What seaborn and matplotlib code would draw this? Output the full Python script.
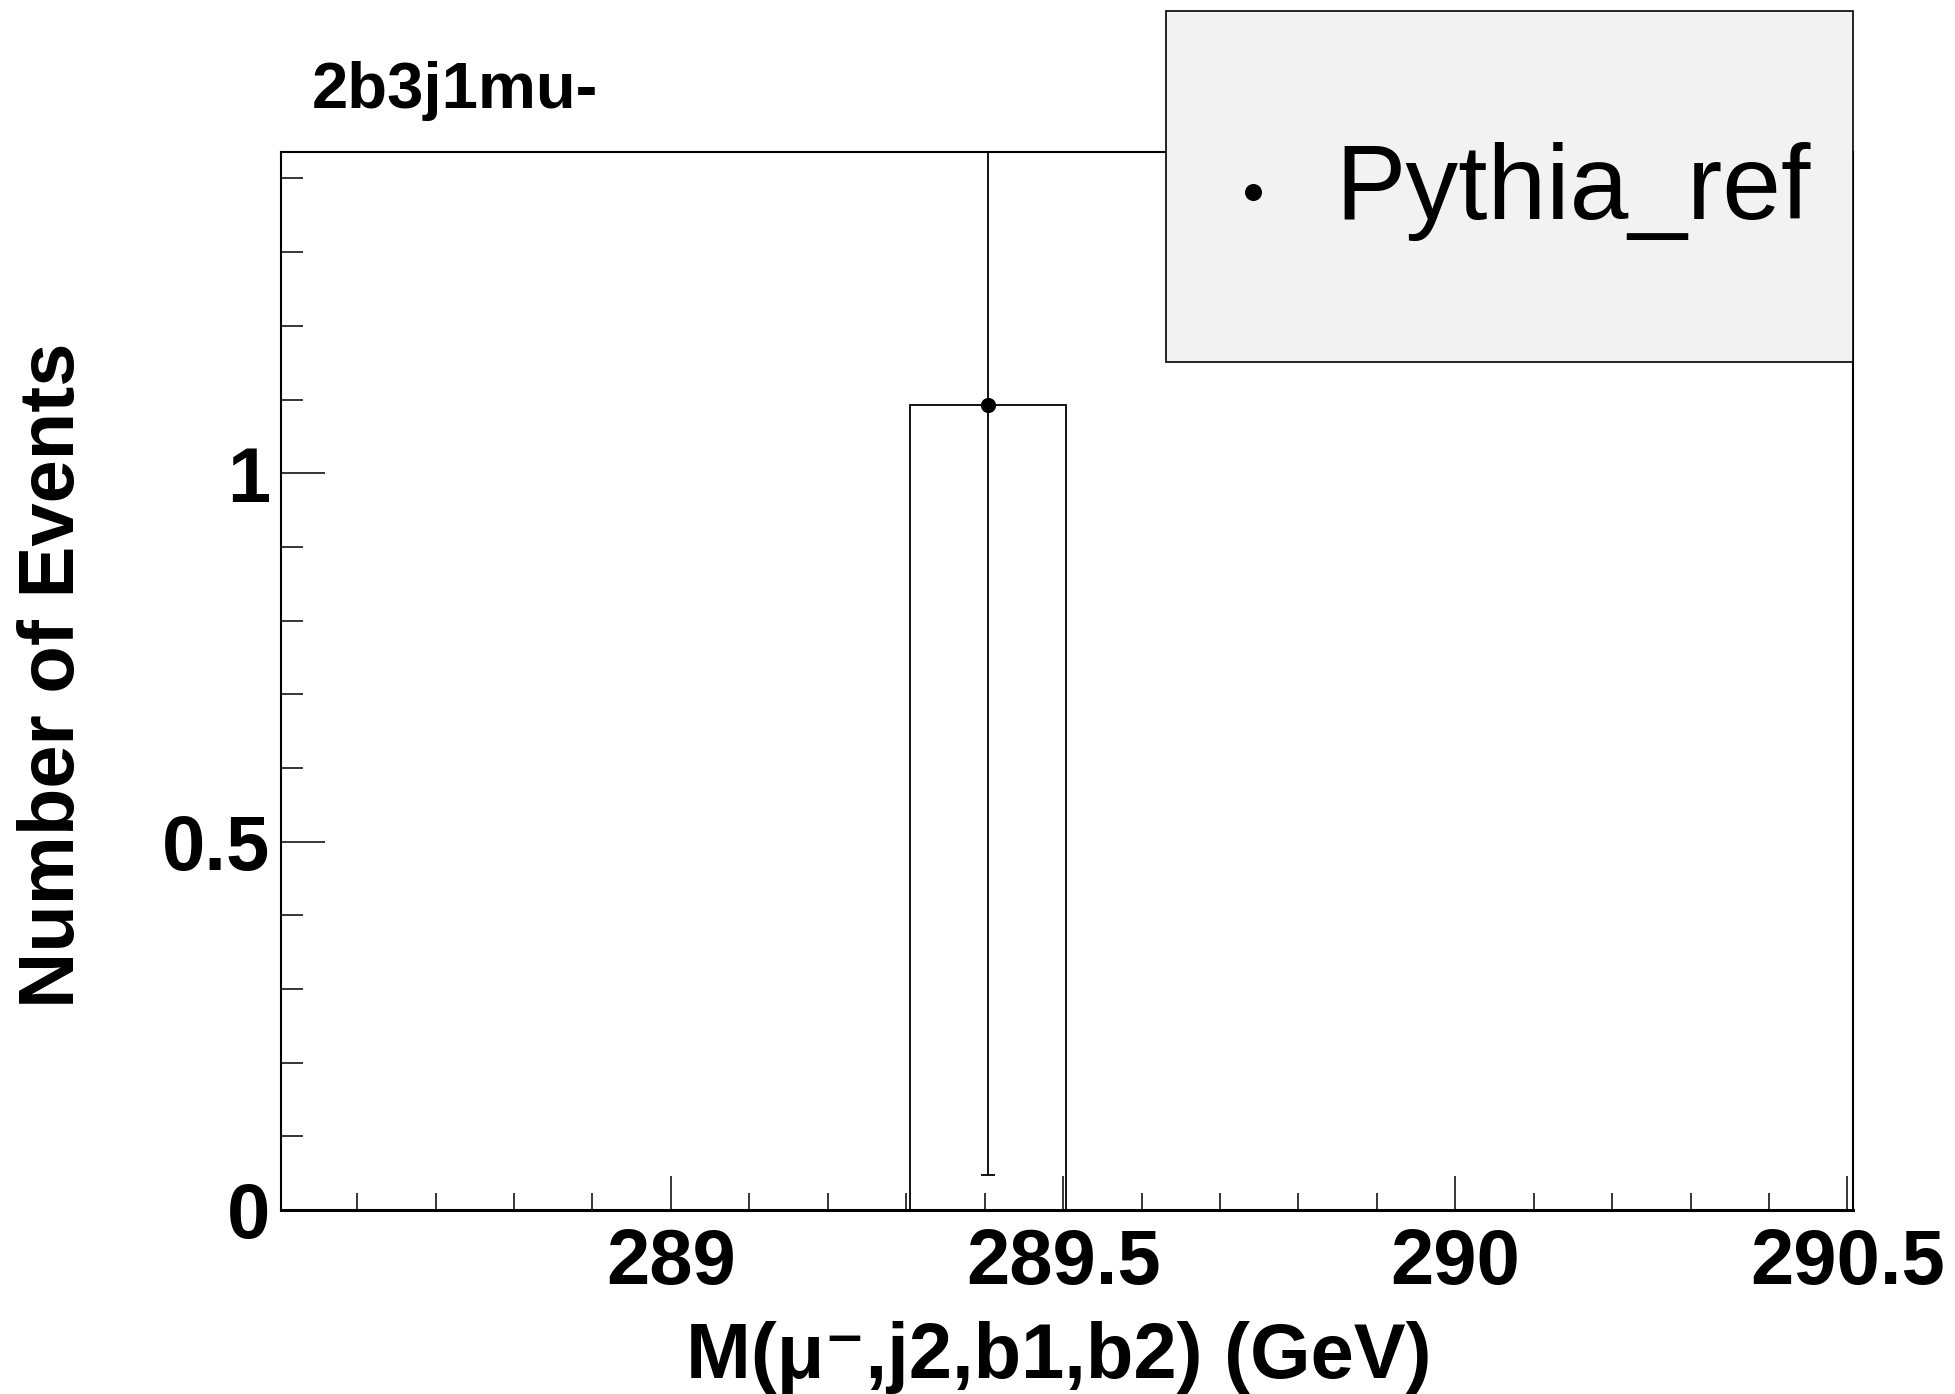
import matplotlib
matplotlib.use('Agg')
import matplotlib.pyplot as plt
from matplotlib.patches import Rectangle
from matplotlib.ticker import MultipleLocator
import seaborn as sns

# conteudo do histograma (um unico bin preenchido)
bin_edges = [289.305, 289.504]
bin_centers = [289.4045]
bin_counts = [1.093]
bin_errors = [1.0455]

x_ticks = [289, 289.5, 290, 290.5]
x_tick_labels = ['289', '289.5', '290', '290.5']
y_ticks = [0, 0.5, 1]
y_tick_labels = ['0', '0.5', '1']

sns.set_style('ticks')
plt.rcParams['font.family'] = ['Liberation Sans', 'DejaVu Sans']
plt.rcParams['text.color'] = 'black'
plt.rcParams['axes.labelcolor'] = 'black'
plt.rcParams['xtick.color'] = 'black'
plt.rcParams['ytick.color'] = 'black'

fig = plt.figure(figsize=(19.56, 13.94), dpi=100)
ax = fig.add_axes([0.1437, 0.1320, 0.8036, 0.7590])

# histograma
sns.histplot(x=bin_centers, weights=bin_counts, bins=bin_edges, fill=False,
             element='bars', color='black', linewidth=1.3, ax=ax)

# barra de erro + ponto
ax.errorbar(bin_centers, bin_counts, yerr=bin_errors, fmt='none', ecolor='black',
            elinewidth=1.3, capsize=5, capthick=1.3)
sns.scatterplot(x=bin_centers, y=bin_counts, color='black', s=120, linewidth=0,
                label='Pythia_ref', ax=ax, zorder=5)
if ax.get_legend() is not None:
    ax.get_legend().remove()

ax.set_xlim(288.503, 290.507)
ax.set_ylim(0, 1.436)

ax.set_xticks(x_ticks, x_tick_labels)
ax.set_yticks(y_ticks, y_tick_labels)
ax.xaxis.set_minor_locator(MultipleLocator(0.1))
ax.yaxis.set_minor_locator(MultipleLocator(0.1))
ax.tick_params(axis='x', which='major', direction='in', length=24.5, width=1.1,
               pad=12, labelsize=56, color='black', labelcolor='black')
ax.tick_params(axis='x', which='minor', direction='in', length=12, width=1.1, color='black')
ax.tick_params(axis='y', which='major', direction='in', length=32, width=1.1,
               pad=8, labelsize=56, color='black', labelcolor='black')
ax.tick_params(axis='y', which='minor', direction='in', length=16, width=1.1, color='black')
for lbl in ax.get_xticklabels() + ax.get_yticklabels():
    lbl.set_fontweight('bold')

for sp in ax.spines.values():
    sp.set_visible(True)
    sp.set_linewidth(1.5)
    sp.set_color('black')
ax.spines['bottom'].set_linewidth(2.2)

ax.set_xlabel('M(μ⁻,j2,b1,b2) (GeV)', fontsize=56, fontweight='bold', color='black')
ax.xaxis.set_label_coords(0.495, -0.105)
ax.set_ylabel('Number of Events', fontsize=56, fontweight='bold', color='black')
ax.yaxis.set_label_coords(-0.1215, 0.5057)

fig.text(0.1595, 0.9225, '2b3j1mu-', fontsize=47, fontweight='bold', va='baseline',
         color='black')

# caixa da legenda
fig.add_artist(Rectangle((0.5961, 0.7403), 0.3512, 0.2518, transform=fig.transFigure,
                         facecolor='#f2f2f2', edgecolor='black', lw=1.2, zorder=4))
handles, labels = ax.get_legend_handles_labels()
leg = fig.legend(handles, labels, loc='center left', bbox_to_anchor=(0.6245, 0.8623),
                 frameon=False, prop={'size': 76}, handlelength=0.6, handletextpad=0.48,
                 borderpad=0, borderaxespad=0, markerscale=1.12)
for t in leg.get_texts():
    t.set_color('black')

fig.savefig('out.png', dpi=100)
